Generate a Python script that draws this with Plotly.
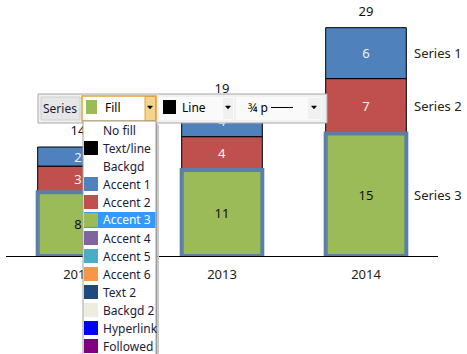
import plotly.graph_objects as go
import numpy as np

# ---------------- data ----------------
years = ["2012", "2013", "2014"]
series3 = [8.0, 10.8, 15.4]   # bottom (green, selected)
series2 = [3.3, 4.2, 6.9]     # middle (red)
series1 = [2.4, 4.0, 6.4]     # top (blue)
series_names = ["Series 1", "Series 2", "Series 3"]

menu_items = ["No fill", "Text/line", "Backgd", "Accent 1", "Accent 2", "Accent 3",
              "Accent 4", "Accent 5", "Accent 6", "Text 2", "Backgd 2", "Hyperlink", "Followed"]
menu_colors = [None, "#000000", None, "#4F81BD", "#C0504D", "#9BBB59",
               "#8064A2", "#4BACC6", "#F79646", "#1F497D", "#EEECE1", "#0000FF", "#800080"]
selected_item = "Accent 3"

# ---------------- geometry ----------------
W, H = 467, 354
L, R, T, B = 6, 29, 3, 98
PW, PH = W - L - R, H - T - B

def px(x):
    return (x - L) / PW

def py(y):
    return (H - B - y) / PH

s3 = np.array(series3)
s2 = np.array(series2)
s1 = np.array(series1)
base2 = s3
base1 = s3 + s2
totals = s3 + s2 + s1

FONT = "Noto Sans"
fig = go.Figure()

fig.add_trace(go.Bar(
    x=years, y=s2, base=base2, name=series_names[1], width=0.56,
    marker=dict(color="#C0504D", line=dict(color="#000000", width=1)),
    text=[f"{v:.0f}" for v in s2], textposition="inside", insidetextanchor="middle",
    textfont=dict(color="#F2F2F2", size=13, family=FONT), textangle=0))
fig.add_trace(go.Bar(
    x=years, y=s1, base=base1, name=series_names[0], width=0.56,
    marker=dict(color="#4F81BD", line=dict(color="#000000", width=1)),
    text=[f"{v:.0f}" for v in s1], textposition="inside", insidetextanchor="middle",
    textfont=dict(color="#F2F2F2", size=13, family=FONT), textangle=0))
fig.add_trace(go.Bar(
    x=years, y=s3, base=0, name=series_names[2], width=0.56,
    marker=dict(color="#9BBB59", line=dict(color="#5B7FA6", width=4)),
    text=[f"{v:.0f}" for v in s3], textposition="inside", insidetextanchor="middle",
    textfont=dict(color="#111111", size=13, family=FONT), textangle=0))
fig.add_trace(go.Scatter(
    x=years, y=totals, mode="markers+text", text=[f"{v:.0f}" for v in totals],
    textposition="top center", marker=dict(size=12, color="rgba(0,0,0,0)"),
    textfont=dict(color="#111111", size=13, family=FONT), cliponaxis=False,
    hoverinfo="skip"))

annotations = []
# series labels next to the last bar
mids = [base1[-1] + s1[-1] / 2, base2[-1] + s2[-1] / 2, s3[-1] / 2]
for name, m in zip(series_names, mids):
    annotations.append(dict(x=len(years) - 1, y=m, xref="x", yref="y", text=name,
                            showarrow=False, xanchor="left", yanchor="middle", xshift=46,
                            font=dict(size=13, color="#222222", family=FONT)))

shapes = []

def rect(x0, y0, x1, y1, fill, line=None, width=1):
    shapes.append(dict(type="rect", xref="paper", yref="paper", layer="above",
                       x0=px(x0), x1=px(x1), y0=py(y1), y1=py(y0),
                       fillcolor=fill,
                       line=dict(color=line if line else fill, width=width if line else 0)))

def hline(x0, x1, y, color, width=1):
    shapes.append(dict(type="line", xref="paper", yref="paper", layer="above",
                       x0=px(x0), x1=px(x1), y0=py(y), y1=py(y),
                       line=dict(color=color, width=width)))

def vline(x, y0, y1, color, width=1):
    shapes.append(dict(type="line", xref="paper", yref="paper", layer="above",
                       x0=px(x), x1=px(x), y0=py(y0), y1=py(y1),
                       line=dict(color=color, width=width)))

def arrow(cx, cy):
    path = (f"M {px(cx-2.5)} {py(cy-1.5)} L {px(cx+2.5)} {py(cy-1.5)} "
            f"L {px(cx)} {py(cy+1.5)} Z")
    shapes.append(dict(type="path", xref="paper", yref="paper", layer="above",
                       path=path, fillcolor="#000000", line=dict(color="#000000", width=0.5)))

def label(x, y, text, color="#1B1B3A", size=12, anchor="left"):
    annotations.append(dict(x=px(x), y=py(y), xref="paper", yref="paper", text=text,
                            showarrow=False, xanchor=anchor, yanchor="middle",
                            font=dict(size=size, color=color, family=FONT)))

# toolbar
rect(38, 94, 327, 123, "#F0F0F0", "#A8A8A8")
rect(41, 97, 80, 120, "#E6E6E6", "#D0D0D0")
label(60, 108, "Series", anchor="center")
rect(82, 96, 156, 121, "#FFFFFF", "#E3A33A", 1.5)
rect(145, 96.5, 155.5, 120.5, "#F4D58F", "#E3A33A", 1)
rect(86, 100, 97, 114, "#9BBB59")
label(103, 107.5, "Fill", color="#000000")
arrow(150, 107.5)
rect(159, 97, 234, 120, "#FAFAFA")
rect(223, 98, 233, 119, "#F0F0F0")
rect(163, 100, 176, 114, "#000000")
label(180, 107.5, "Line", color="#000000")
arrow(228, 107.5)
rect(236, 97, 322, 120, "#FAFAFA")
rect(308, 98, 321, 119, "#F0F0F0")
label(246, 107.5, "¾ p", color="#000000")
hline(271, 293, 107.5, "#000000", 1)
arrow(314, 107.5)

# dropdown list
rect(156, 124, 157.5, 360, "#9A9A9A")
rect(157.5, 125, 159, 360, "#C8C8C8")
rect(83, 121, 156, 360, "#FFFFFF", "#A0A0A0")
for i, (item, col) in enumerate(zip(menu_items, menu_colors)):
    cy = 130 + 18 * i
    sel = item == selected_item
    if sel:
        rect(84, cy - 8, 155.5, cy + 8, "#3399FF")
    if col is not None:
        rect(84, cy - 7, 98, cy + 7, col)
    label(101, cy, item, color="#FFFFFF" if sel else "#1B1B3A")

fig.update_layout(
    width=W, height=H,
    margin=dict(l=L, r=R, t=T, b=B),
    paper_bgcolor="white", plot_bgcolor="white",
    barmode="overlay", showlegend=False,
    font=dict(family=FONT, size=13, color="#222222"),
    shapes=shapes, annotations=annotations,
    uniformtext=dict(minsize=13, mode="show"),
)
fig.update_xaxes(type="category", range=[-0.5, 2.5], showline=True, linecolor="#000000",
                 linewidth=1, showgrid=False, zeroline=False, ticks="",
                 ticklabelstandoff=6, tickfont=dict(size=13, color="#222222", family=FONT))
fig.update_yaxes(range=[0, 31.8], visible=False, showgrid=False, zeroline=False)

fig.write_html("out.html")
